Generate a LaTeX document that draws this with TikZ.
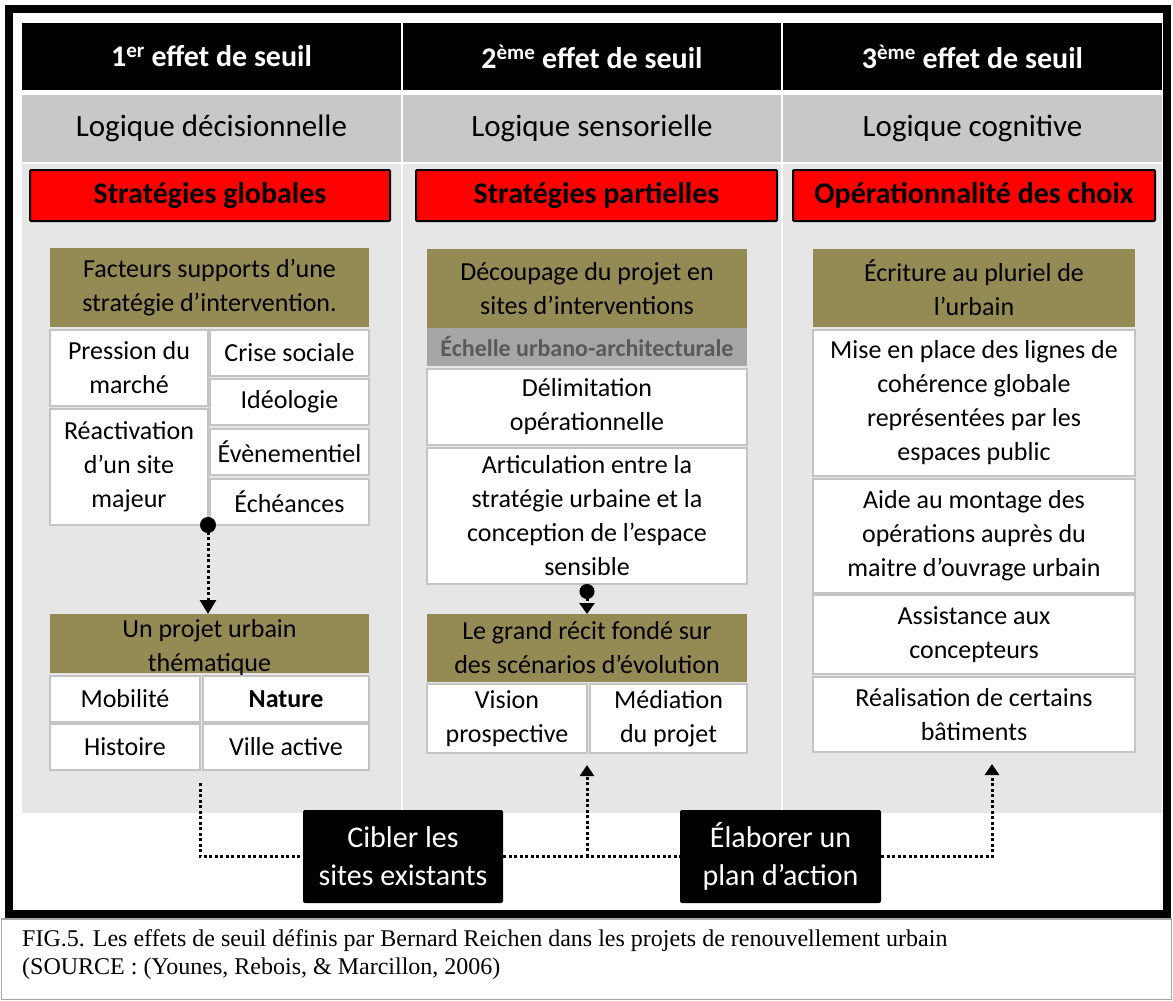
\documentclass[tikz,border=0pt]{standalone}
\usepackage{fontspec}
\setmainfont{Carlito}
\newfontfamily\capfont{Liberation Serif}
\usetikzlibrary{arrows.meta}
\definecolor{olivec}{HTML}{948A54}
\definecolor{rowgray}{HTML}{C8C8C8}
\definecolor{bodygray}{HTML}{E6E6E6}
\definecolor{cellgray}{HTML}{C4C4C4}
\definecolor{echgray}{HTML}{A6A6A6}
\definecolor{echtext}{HTML}{595959}
\newcommand\fs[2]{\fontsize{#1}{#2}\selectfont}
\newcommand\rbox[7]{\node[#6, minimum width={#4-#2}, minimum height={#5-#3}] (#1) at ({(#2+#4)/2},{(#3+#5)/2}) {#7};}
\tikzset{
  base/.style={inner sep=0pt, outer sep=0pt, align=center},
  hdr/.style={base, fill=black, text=white, font=\fs{30}{36}\bfseries},
  logic/.style={base, fill=rowgray, font=\fs{31}{37}},
  redbox/.style={base, fill=red, draw=black, line width=2pt, rounded corners=1pt, font=\fs{30}{36}\bfseries},
  olivebox/.style={base, fill=olivec, font=\fs{26}{34}},
  echbox/.style={base, fill=echgray, text=echtext, font=\fs{24}{28}\bfseries},
  cell/.style={base, fill=white, draw=cellgray, line width=2pt, font=\fs{26}{34}},
  blackbox/.style={base, fill=black, text=white, rounded corners=2pt, font=\fs{30}{38}},
  conn/.style={line width=3pt, dash pattern=on 3pt off 2.5pt},
  tipA/.style={-{Triangle[width=14pt,length=11pt]}},
}
\begin{document}
\begin{tikzpicture}[x=1pt,y=-1pt]
\useasboundingbox (0,0) rectangle (1173,1001);
\fill[white] (0,0) rectangle (1173,1001);
% column backgrounds
\fill[bodygray] (22,164) rectangle (401,813);
\fill[bodygray] (403,164) rectangle (781,813);
\fill[bodygray] (783,164) rectangle (1162,813);
% header row
\rbox{h1}{22}{23}{401}{90}{hdr}{1\textsuperscript{er} effet de seuil}
\rbox{h2}{403}{23}{781}{90}{hdr}{2\textsuperscript{ème} effet de seuil}
\rbox{h3}{783}{23}{1162}{90}{hdr}{3\textsuperscript{ème} effet de seuil}
% logic row
\rbox{l1}{22}{95}{401}{162}{logic}{Logique décisionnelle}
\rbox{l2}{403}{95}{781}{162}{logic}{Logique sensorielle}
\rbox{l3}{783}{95}{1162}{162}{logic}{Logique cognitive}
% red boxes
\rbox{r1}{30}{170}{390}{221}{redbox}{Stratégies globales}
\rbox{r2}{416}{170}{777}{221}{redbox}{Stratégies partielles}
\rbox{r3}{793}{170}{1155}{221}{redbox}{Opérationnalité des choix}
% column 1
\rbox{fact}{50}{248}{369}{327}{olivebox}{Facteurs supports d’une\\stratégie d’intervention.}
\rbox{pres}{50}{330}{208}{406}{cell}{Pression du\\marché}
\rbox{reac}{50}{409}{208}{525}{cell}{Réactivation\\d’un site\\majeur}
\rbox{crise}{210}{330}{369}{376}{cell}{Crise sociale}
\rbox{ideo}{210}{379}{369}{425}{cell}{Idéologie}
\rbox{even}{210}{429}{369}{475}{cell}{Évènementiel}
\rbox{eche}{210}{479}{369}{525}{cell}{Échéances}
\rbox{proj}{50}{614}{369}{673}{olivebox}{}
\node[base, font=\fs{26}{34}] (projtxt) at (209.5,648) {Un projet urbain\\thématique};
\rbox{mob}{50}{676}{200}{722}{cell}{Mobilité}
\rbox{nat}{203}{676}{369}{722}{cell}{\bfseries Nature}
\rbox{hist}{50}{724}{200}{770}{cell}{Histoire}
\rbox{ville}{203}{724}{369}{770}{cell}{Ville active}
% column 2
\rbox{dec}{427}{249}{747}{328}{olivebox}{Découpage du projet en\\sites d’interventions}
\rbox{ech}{427}{328}{747}{366}{echbox}{Échelle urbano-architecturale}
\rbox{delim}{427}{369}{747}{445}{cell}{Délimitation\\opérationnelle}
\rbox{artic}{427}{448}{747}{584}{cell}{Articulation entre la\\stratégie urbaine et la\\conception de l’espace\\sensible}
\rbox{recit}{427}{614}{747}{682}{olivebox}{Le grand récit fondé sur\\des scénarios d’évolution}
\rbox{vision}{427}{684}{587}{753}{cell}{Vision\\prospective}
\rbox{med}{590}{684}{747}{753}{cell}{Médiation\\du projet}
% column 3
\rbox{ecr}{813}{249}{1135}{327}{olivebox}{Écriture au pluriel de\\l’urbain}
\rbox{mise}{813}{330}{1135}{476}{cell}{Mise en place des lignes de\\cohérence globale\\représentées par les\\espaces public}
\rbox{aide}{813}{479}{1135}{593}{cell}{Aide au montage des\\opérations auprès du\\maitre d’ouvrage urbain}
\rbox{assist}{813}{595}{1135}{674}{cell}{Assistance aux\\concepteurs}
\rbox{real}{813}{677}{1135}{752}{cell}{Réalisation de certains\\bâtiments}
% bottom black boxes
\rbox{cible}{303}{810}{503}{903}{blackbox}{Cibler les\\sites existants}
\rbox{elab}{680}{810}{881}{903}{blackbox}{Élaborer un\\plan d’action}
% connectors
\draw[conn, {Circle[length=16pt]}-{Triangle[width=16pt,length=14pt]}] ([yshift=8pt]reac.south east) -- (reac.south east |- proj.north);
\draw[conn, {Circle[length=15pt]}-{Triangle[width=15pt,length=11pt]}] (artic.south) -- (recit.north);
\draw[conn] ([yshift=-13pt]hist.south east) |- (cible.west);
\draw[conn] (cible.east) -- (elab.west);
\draw[conn, tipA] (cible.east -| vision.south east) -- ([yshift=-12pt]vision.south east);
\draw[conn, tipA] (elab.east) -| ([xshift=18pt,yshift=-12pt]real.south);
% outer frame
\draw[line width=8pt] (9,9) rectangle (1167,914);
% caption
\draw[line width=1.5pt, draw=black!35] (1.5,919) rectangle (1171.5,999.5);
\node[anchor=west, inner sep=0pt, align=left, font=\capfont\fs{24}{28}] (cap) at (22,955) {FIG.5. Les effets de seuil définis par Bernard Reichen dans les projets de renouvellement urbain\\(SOURCE : (Younes, Rebois, \& Marcillon, 2006)};
\end{tikzpicture}
\end{document}
